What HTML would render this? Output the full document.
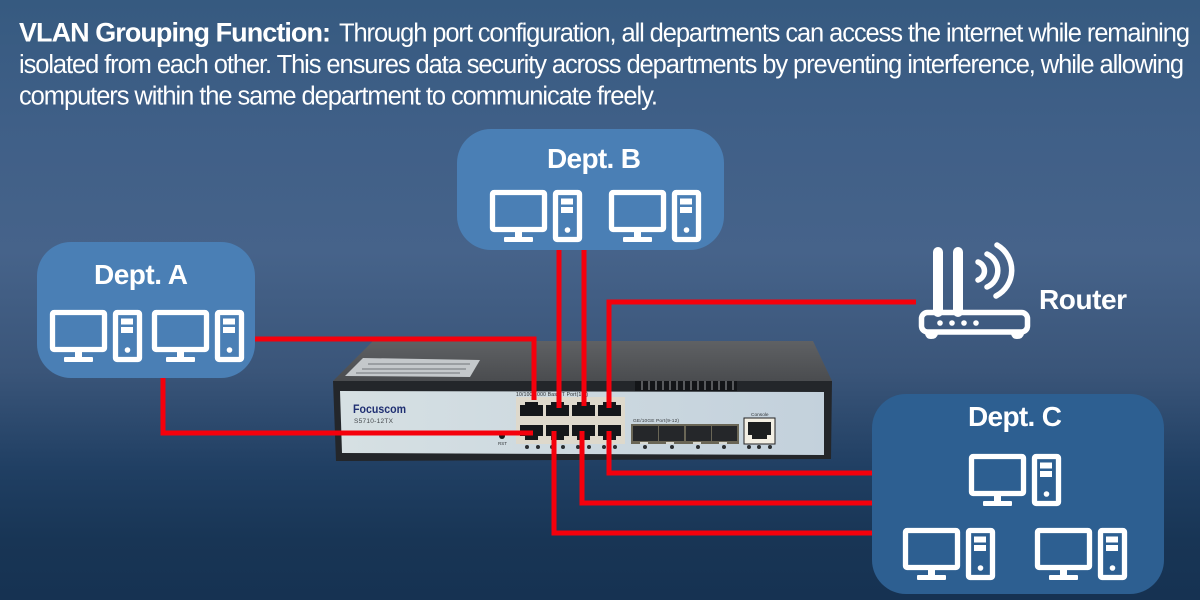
<!DOCTYPE html>
<html><head><meta charset="utf-8"><title>VLAN Grouping Function</title>
<style>html,body{margin:0;padding:0;background:#17345a}svg{display:block}text{font-family:"Liberation Sans",sans-serif}</style>
</head><body>
<svg width="1200" height="600" viewBox="0 0 1200 600" xmlns="http://www.w3.org/2000/svg">
<defs>
<linearGradient id="bg" x1="0" y1="0" x2="0" y2="1">
<stop offset="0" stop-color="#365a80"/><stop offset=".2" stop-color="#3f5f87"/><stop offset=".42" stop-color="#46638a"/><stop offset=".62" stop-color="#3a5579"/><stop offset=".78" stop-color="#203f63"/><stop offset=".9" stop-color="#183555"/><stop offset="1" stop-color="#163252"/>
</linearGradient>
<linearGradient id="top" x1="0" y1="0" x2="0" y2="1"><stop offset="0" stop-color="#5f6164"/><stop offset="1" stop-color="#4a4c4f"/></linearGradient>
<linearGradient id="face" x1="0" y1="0" x2="1" y2="0"><stop offset="0" stop-color="#d6e0e3"/><stop offset="1" stop-color="#c3d1dc"/></linearGradient>
<g id="pc">
<rect x="2.500" y="2.500" width="52" height="37" rx="1.500" fill="none" stroke="#fff" stroke-width="5.300"/>
<rect x="25" y="40" width="7" height="8" fill="#fff"/>
<rect x="14" y="47" width="29" height="5" rx="1" fill="#fff"/>
<rect x="65.500" y="2.500" width="24" height="47" rx="1.500" fill="none" stroke="#fff" stroke-width="5.300"/>
<rect x="71" y="8.500" width="12" height="6" fill="#fff"/>
<rect x="71" y="17" width="12" height="6" fill="#fff"/>
<circle cx="77.500" cy="40" r="2.800" fill="#fff"/>
</g>
<g id="portU"><path d="M5 0H18V3H23V14H0V3H5Z" fill="#14171a"/></g>
<g id="portL"><path d="M0 0H23V11H18V15H5V11H0Z" fill="#14171a"/></g>
</defs>
<rect width="1200" height="600" fill="url(#bg)"/>

<text x="19" y="41.500" font-size="27" font-weight="700" fill="#fff" textLength="312" lengthAdjust="spacing">VLAN Grouping Function:</text>
<text x="339" y="41.500" font-size="25.500" fill="#fff" textLength="851" lengthAdjust="spacing">Through port configuration, all departments can access the internet while remaining</text>
<text x="19" y="73" font-size="25.500" fill="#fff" textLength="1165" lengthAdjust="spacing">isolated from each other. This ensures data security across departments by preventing interference, while allowing</text>
<text x="19" y="104.500" font-size="25.500" fill="#fff" textLength="639" lengthAdjust="spacing">computers within the same department to communicate freely.</text>

<!-- switch -->
<polygon points="333,381 373,341 813,341 832,381" fill="url(#top)"/>
<polygon points="345,376 363,358 480,360 470,377" fill="#c4c8cb"/>
<g stroke="#70757a" stroke-width="1"><line x1="368" y1="364" x2="470" y2="364"/><line x1="362" y1="369" x2="466" y2="369"/><line x1="356" y1="373" x2="460" y2="373"/></g>
<polygon points="333,381 832,381 831,459 336,461" fill="#23262a"/>
<rect x="635" y="381" width="102" height="10" fill="#131518"/>
<g fill="#585a5d"><rect x="641" y="381" width="2" height="9"/><rect x="648" y="381" width="2" height="9"/><rect x="655" y="381" width="2" height="9"/><rect x="662" y="381" width="2" height="9"/><rect x="669" y="381" width="2" height="9"/><rect x="676" y="381" width="2" height="9"/><rect x="683" y="381" width="2" height="9"/><rect x="690" y="381" width="2" height="9"/><rect x="697" y="381" width="2" height="9"/><rect x="704" y="381" width="2" height="9"/><rect x="711" y="381" width="2" height="9"/><rect x="718" y="381" width="2" height="9"/><rect x="725" y="381" width="2" height="9"/><rect x="732" y="381" width="2" height="9"/></g>
<polygon points="340,391 824,392 824,455 342,453" fill="url(#face)"/>
<text x="353" y="413" font-size="12" font-weight="700" fill="#1f2f72" textLength="53" lengthAdjust="spacingAndGlyphs">Focuscom</text>
<text x="354" y="423" font-size="6.500" fill="#44484c" textLength="39" lengthAdjust="spacing">S5710-12TX</text>
<circle cx="502" cy="436" r="3" fill="#15181a"/>
<text x="498" y="445" font-size="4.500" fill="#33373a">RST</text>
<text x="516" y="396" font-size="5" fill="#25282b" textLength="72" lengthAdjust="spacing">10/100/1000 Base-T Port(1-8)</text>
<rect x="516" y="397" width="109" height="47" fill="#ded9cc"/>
<use href="#portU" x="520" y="402"/><use href="#portU" x="546" y="402"/><use href="#portU" x="572" y="402"/><use href="#portU" x="598" y="402"/>
<use href="#portL" x="520" y="425"/><use href="#portL" x="546" y="425"/><use href="#portL" x="572" y="425"/><use href="#portL" x="598" y="425"/>
<g fill="#2a2e31"><circle cx="527" cy="447" r="2"/><circle cx="538" cy="447" r="2"/><circle cx="552" cy="447" r="2"/><circle cx="563" cy="447" r="2"/><circle cx="578" cy="447" r="2"/><circle cx="589" cy="447" r="2"/><circle cx="604" cy="447" r="2"/><circle cx="615" cy="447" r="2"/><circle cx="645" cy="447" r="2"/><circle cx="672" cy="447" r="2"/><circle cx="698" cy="447" r="2"/><circle cx="724" cy="447" r="2"/><circle cx="749" cy="447" r="2"/><circle cx="759" cy="447" r="2"/><circle cx="770" cy="447" r="2"/></g>
<text x="633" y="422" font-size="4.800" fill="#33373a" textLength="46" lengthAdjust="spacing">GE/10GE Port(9-12)</text>
<rect x="631" y="424" width="108" height="20" fill="#6a6656"/>
<g fill="#25272a"><rect x="633" y="426" width="25" height="15"/><rect x="659" y="426" width="25" height="15"/><rect x="686" y="426" width="25" height="15"/><rect x="712" y="426" width="25" height="15"/></g>
<g fill="#d8d8d0"><rect x="640" y="442" width="8" height="2"/><rect x="666" y="442" width="8" height="2"/><rect x="693" y="442" width="8" height="2"/><rect x="719" y="442" width="8" height="2"/></g>
<text x="751" y="416" font-size="4.800" fill="#33373a">Console</text>
<rect x="744" y="418" width="31" height="26" fill="#f2efe4" stroke="#222" stroke-width="1"/>
<path d="M748 422H771V435H767V439H752V435H748Z" fill="#1b1e20"/>

<!-- connectors -->
<g fill="none" stroke="#f5000c" stroke-width="5">
<path d="M255 339H534V400"/>
<path d="M163 378V433H533"/>
<path d="M559 250V408"/>
<path d="M584 250V406"/>
<path d="M916 302H609V408"/>
<path d="M872 473H609V431"/>
<path d="M872 503H582V431"/>
<path d="M872 533H554V431"/>
</g>

<!-- groups -->
<rect x="37" y="242" width="218" height="136" rx="34" fill="#4a7fb5"/>
<rect x="457" y="129" width="267" height="121" rx="34" fill="#4a7fb5"/>
<rect x="872" y="394" width="292" height="200" rx="34" fill="#2d5f91"/>

<text x="141" y="284" font-size="28" font-weight="700" fill="#fff" text-anchor="middle" textLength="94" lengthAdjust="spacing">Dept. A</text>
<text x="594" y="168" font-size="28" font-weight="700" fill="#fff" text-anchor="middle" textLength="94" lengthAdjust="spacing">Dept. B</text>
<text x="1015" y="426" font-size="28" font-weight="700" fill="#fff" text-anchor="middle" textLength="94" lengthAdjust="spacing">Dept. C</text>

<use href="#pc" x="50" y="310"/><use href="#pc" x="152" y="310"/>
<use href="#pc" x="490" y="190"/><use href="#pc" x="609" y="190"/>
<use href="#pc" x="969" y="454"/><use href="#pc" x="903" y="528"/><use href="#pc" x="1035" y="528"/>

<!-- router -->
<g fill="none" stroke="#fff" stroke-linecap="round">
<path d="M938 252V312M958 252V312" stroke-width="10"/>
<rect x="921.500" y="312.500" width="106" height="19.500" rx="6" stroke-width="5.500"/>
<path d="M978 262A9.500 9.500 0 0 1 978 280" stroke-width="5.500"/>
<path d="M987 254A18 18 0 0 1 987 287" stroke-width="5.500"/>
<path d="M997 245A29 29 0 0 1 996 296" stroke-width="5.500"/>
</g>
<path d="M925 334H938Q937 339 931 339Q926 339 925 334ZM1011 334H1024Q1023 339 1017 339Q1012 339 1011 334Z" fill="#fff"/>
<g fill="#fff"><circle cx="940" cy="323" r="2.800"/><circle cx="952" cy="323" r="2.800"/><circle cx="964" cy="323" r="2.800"/><circle cx="976" cy="323" r="2.800"/></g>
<text x="1039" y="309" font-size="28" font-weight="700" fill="#fff" textLength="88" lengthAdjust="spacing">Router</text>
</svg>
</body></html>
